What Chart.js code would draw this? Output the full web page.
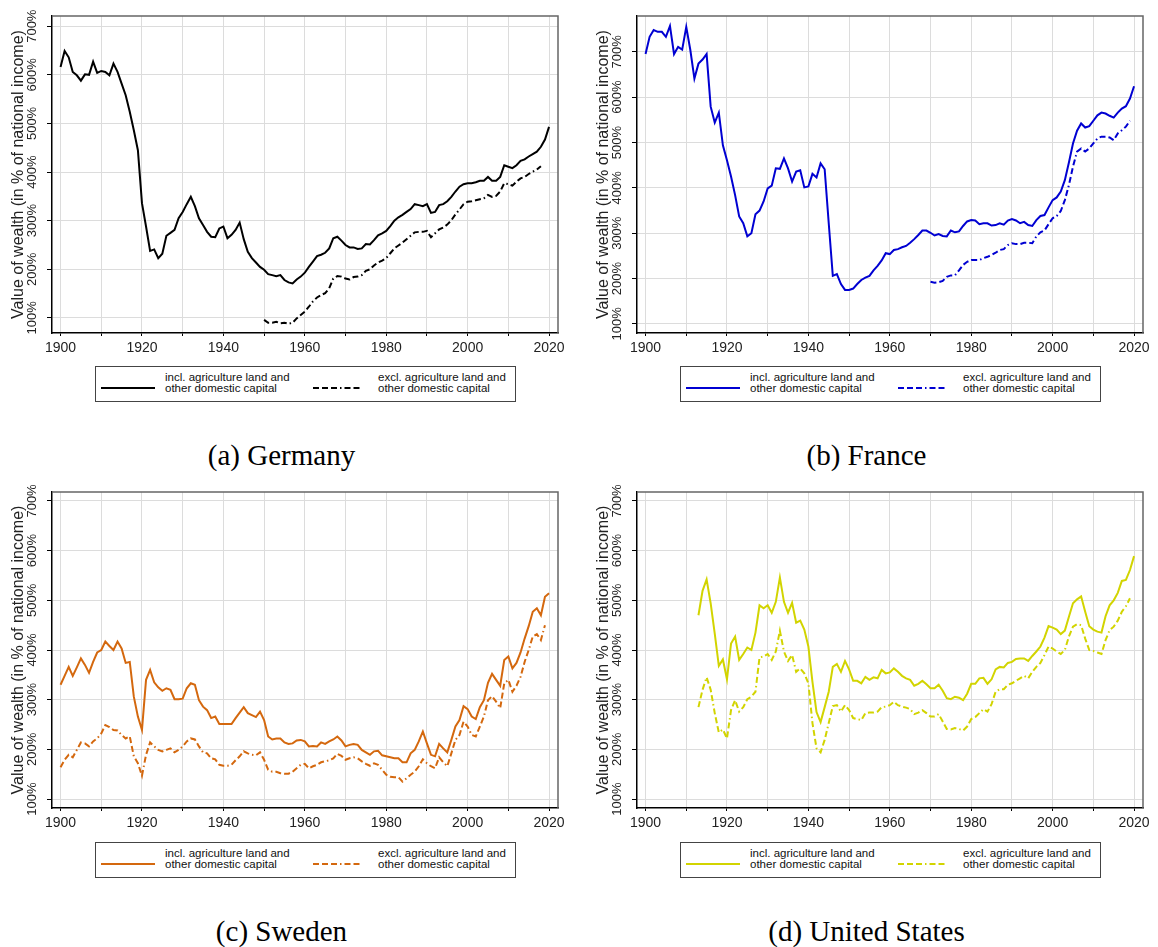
<!DOCTYPE html>
<html>
<head>
<meta charset="utf-8">
<script src="https://cdn.jsdelivr.net/npm/chart.js@4.4.1/dist/chart.umd.min.js"></script>
<style>
  body { margin: 0; background: #fff; }
  #page { position: relative; width: 1158px; height: 947px; overflow: hidden; background: #fff; }
  canvas.panel { position: absolute; }
  .legend {
    position: absolute; width: 419px; height: 34px; border: 1px solid #444;
    font-family: "Liberation Sans", Arial, sans-serif; font-size: 11.5px; line-height: 11px; color: #111;
  }
  .legend .sample { position: absolute; top: 14px; }
  .legend .txt { position: absolute; top: 5px; white-space: nowrap; }
  .caption {
    position: absolute; width: 563px; text-align: center;
    font-family: "Liberation Serif", "Times New Roman", serif; font-size: 29px; line-height: 34px; color: #000;
  }
</style>
</head>
<body>
<div id="page">
  <canvas id="cDE" class="panel" width="575" height="362" style="left:0;top:0"></canvas>
  <canvas id="cFR" class="panel" width="575" height="362" style="left:585px;top:0"></canvas>
  <canvas id="cSE" class="panel" width="575" height="362" style="left:0;top:476px"></canvas>
  <canvas id="cUS" class="panel" width="575" height="362" style="left:585px;top:476px"></canvas>
  <div id="lDE" class="legend" style="left:95px;top:366px"></div>
  <div id="lFR" class="legend" style="left:680px;top:366px"></div>
  <div id="lSE" class="legend" style="left:95px;top:842px"></div>
  <div id="lUS" class="legend" style="left:680px;top:842px"></div>
  <div class="caption" style="left:0;top:438px">(a) Germany</div>
  <div class="caption" style="left:585px;top:438px">(b) France</div>
  <div class="caption" style="left:0;top:914px">(c) Sweden</div>
  <div class="caption" style="left:585px;top:914px">(d) United States</div>
</div>

<script>
// axis ticks and labels
const xTicks = [1900, 1910, 1920, 1930, 1940, 1950, 1960, 1970, 1980, 1990, 2000, 2010, 2020];
const yTicks = [100, 200, 300, 400, 500, 600, 700];
const yTitle = "Value of wealth (in % of national income)";
const legendInclLines = ["incl. agriculture land and", "other domestic capital"];
const legendExclLines = ["excl. agriculture land and", "other domestic capital"];

// Germany, value of wealth in % of national income
const deInclStart = 1900;
const deIncl = [
  616, 649, 636, 606, 599, 588, 601, 600, 627, 604,
  608, 606, 599, 623, 606, 582, 558, 524, 486, 445,
  336, 288, 238, 241, 223, 232, 269, 275, 281, 305,
  318, 334, 349, 330, 305, 291, 277, 267, 266, 284,
  288, 264, 271, 281, 296, 262, 236, 223, 214, 205,
  199, 190, 188, 186, 188, 178, 173, 171, 179, 185,
  193, 205, 216, 227, 230, 234, 243, 264, 267, 259,
  250, 245, 245, 242, 243, 252, 251, 260, 270, 274,
  279, 289, 300, 307, 312, 318, 324, 334, 332, 330,
  334, 316, 318, 332, 334, 340, 349, 360, 370, 375,
  377, 377, 379, 382, 382, 390, 382, 382, 390, 414,
  411, 408, 414, 423, 426, 432, 437, 442, 452, 467,
  493
];
const deExclStart = 1950;
const deExcl = [
  96, 90, 90, 92, 89, 90, 88, 90, 99, 106,
  113, 123, 134, 142, 147, 151, 161, 181, 186, 185,
  181, 179, 184, 185, 188, 197, 200, 208, 214, 218,
  223, 233, 243, 249, 255, 262, 269, 276, 277, 277,
  279, 266, 274, 282, 286, 292, 301, 313, 323, 334,
  339, 340, 342, 344, 346, 353, 349, 351, 360, 377,
  375, 372, 380, 387, 390, 396, 401, 405, 412
];

// France
const frInclStart = 1900;
const frIncl = [
  695, 733, 748, 744, 744, 733, 757, 695, 711, 705,
  755, 704, 641, 674, 683, 695, 579, 544, 566, 494,
  461, 425, 384, 337, 322, 293, 300, 342, 350, 370,
  399, 405, 443, 442, 465, 443, 414, 436, 439, 401,
  403, 431, 423, 454, 441, 322, 206, 210, 188, 175,
  175, 178, 188, 197, 202, 206, 218, 228, 240, 256,
  254, 263, 265, 269, 272, 279, 287, 296, 306, 306,
  301, 295, 298, 294, 293, 306, 302, 304, 316, 326,
  329, 328, 320, 322, 322, 317, 318, 322, 319, 328,
  331, 328, 322, 325, 318, 316, 329, 338, 340, 357,
  373, 379, 392, 417, 456, 498, 526, 542, 533, 536,
  548, 560, 566, 564, 559, 555, 566, 575, 580, 597,
  624
];
const frExclStart = 1970;
const frExcl = [
  193, 191, 192, 195, 204, 207, 207, 218, 230, 237,
  241, 241, 241, 245, 248, 252, 257, 263, 265, 274,
  278, 276, 276, 279, 279, 278, 293, 302, 306, 320,
  333, 338, 349, 373, 406, 447, 480, 487, 480, 487,
  498, 509, 513, 513, 511, 505, 520, 527, 535, 548
];

// Sweden
const seInclStart = 1900;
const seIncl = [
  330, 348, 366, 348, 365, 383, 370, 354, 376, 395,
  400, 417, 408, 400, 417, 403, 374, 376, 306, 266,
  239, 340, 360, 335, 325, 318, 323, 320, 301, 301,
  302, 323, 333, 330, 299, 286, 279, 263, 266, 251,
  251, 251, 251, 263, 274, 285, 273, 269, 265, 276,
  259, 226, 220, 222, 222, 214, 211, 212, 218, 219,
  216, 206, 207, 206, 214, 211, 216, 220, 226, 218,
  206, 209, 211, 209, 199, 194, 189, 196, 197, 188,
  186, 184, 182, 182, 174, 174, 192, 199, 216, 236,
  212, 189, 186, 211, 202, 194, 219, 246, 259, 287,
  281, 266, 261, 285, 299, 334, 352, 340, 328, 380,
  387, 363, 374, 395, 423, 448, 477, 484, 470, 507,
  514
];
const seExclStart = 1900;
const seExcl = [
  164, 179, 189, 184, 199, 214, 212, 206, 216, 222,
  232, 249, 245, 239, 238, 229, 222, 226, 186, 172,
  147, 189, 214, 206, 199, 196, 199, 202, 194, 199,
  206, 216, 222, 220, 206, 194, 192, 182, 180, 169,
  167, 167, 169, 178, 186, 196, 192, 189, 188, 194,
  179, 159, 155, 155, 152, 151, 151, 155, 162, 169,
  171, 162, 166, 169, 174, 176, 178, 182, 191, 187,
  179, 182, 184, 182, 176, 171, 167, 172, 169, 159,
  149, 145, 144, 144, 135, 142, 149, 155, 166, 180,
  172, 166, 162, 184, 174, 166, 192, 219, 229, 256,
  246, 229, 226, 246, 266, 299, 307, 296, 283, 333,
  340, 316, 328, 346, 376, 400, 427, 432, 420, 450
];

// United States
const usInclStart = 1913;
const usIncl = [
  470, 519, 542, 494, 433, 368, 381,
  341, 413, 427, 380, 392, 405, 400, 435, 490, 484,
  490, 475, 497, 546, 497, 475, 495, 455, 459, 441,
  407, 336, 275, 255, 285, 316, 366, 372, 356, 378,
  361, 338, 338, 333, 346, 340, 345, 343, 360, 353,
  355, 363, 356, 348, 343, 340, 328, 332, 338, 331,
  323, 323, 330, 318, 303, 301, 306, 304, 299, 312,
  332, 332, 343, 344, 332, 341, 361, 366, 365, 374,
  376, 382, 383, 383, 378, 388, 397, 407, 425, 448,
  445, 441, 432, 439, 467, 494, 502, 508, 477, 448,
  441, 437, 435, 468, 490, 500, 515, 539, 541, 561,
  589
];
const usExclStart = 1913;
const usExcl = [
  285, 320, 345, 320, 273, 234, 240,
  222, 279, 299, 276, 285, 301, 306, 316, 385, 387,
  392, 380, 397, 439, 397, 378, 390, 356, 363, 353,
  333, 253, 202, 194, 219, 253, 287, 289, 276, 289,
  279, 263, 261, 259, 273, 274, 274, 276, 285, 286,
  289, 296, 289, 286, 284, 281, 271, 274, 279, 273,
  266, 266, 271, 256, 241, 240, 243, 241, 238, 246,
  261, 265, 273, 281, 276, 291, 316, 321, 321, 330,
  333, 338, 343, 348, 343, 356, 366, 374, 390, 407,
  403, 397, 392, 400, 427, 447, 452, 450, 423, 400,
  398, 395, 392, 420, 440, 447, 459, 477, 488, 504
];

const dashPattern = [6, 3, 6, 3, 6, 3, 1.5, 3];

Chart.defaults.font.family = "'Liberation Sans', Arial, sans-serif";
Chart.defaults.color = "#222";

function toPoints(start, values) {
  return values.map((v, i) => ({ x: start + i, y: v }));
}

// grey frame on the top and right side of the plot
const framePlugin = {
  id: "frame",
  afterDraw(chart) {
    const { ctx, chartArea: a } = chart;
    ctx.save();
    ctx.strokeStyle = "#666";
    ctx.lineWidth = 1.5;
    ctx.beginPath();
    ctx.moveTo(a.left, a.top);
    ctx.lineTo(a.right, a.top);
    ctx.lineTo(a.right, a.bottom);
    ctx.stroke();
    ctx.restore();
  }
};

function makePanel(p) {
  const ctx = document.getElementById(p.canvas).getContext("2d");
  new Chart(ctx, {
    type: "line",
    data: {
      datasets: [
        {
          data: toPoints(p.inclStart, p.incl),
          borderColor: p.color,
          borderWidth: 2,
          pointRadius: 0,
          tension: 0
        },
        {
          data: toPoints(p.exclStart, p.excl),
          borderColor: p.color,
          borderWidth: 2,
          borderDash: dashPattern,
          pointRadius: 0,
          tension: 0
        }
      ]
    },
    options: {
      responsive: false,
      animation: false,
      devicePixelRatio: 1,
      layout: { padding: { top: 16, right: 17, left: 0, bottom: 0 } },
      plugins: { legend: { display: false }, tooltip: { enabled: false } },
      scales: {
        x: {
          type: "linear",
          min: 1897.9,
          max: 2022.2,
          afterBuildTicks: (s) => { s.ticks = xTicks.map((v) => ({ value: v })); },
          afterFit: (s) => { s.height = p.axisH; },
          ticks: {
            autoSkip: false,
            maxRotation: 0,
            padding: 4,
            font: { size: 14 },
            color: "#222",
            callback: (v) => (v % 20 === 0 ? String(v) : "")
          },
          grid: { color: "#dcdcdc", lineWidth: 1, tickLength: 3, tickColor: "#000", tickWidth: 1 },
          border: { color: "#000", width: 1.5 }
        },
        y: {
          min: p.yMin,
          max: p.yMax,
          afterBuildTicks: (s) => { s.ticks = yTicks.map((v) => ({ value: v })); },
          afterFit: (s) => { s.width = 52; },
          ticks: {
            minRotation: 90,
            maxRotation: 90,
            crossAlign: "center",
            padding: -2,
            font: { size: 13 },
            color: "#222",
            callback: (v) => v + "%"
          },
          grid: { color: "#dcdcdc", lineWidth: 1, tickLength: 5, tickColor: "#000", tickWidth: 1 },
          border: { color: "#000", width: 1.5 },
          title: {
            display: true,
            text: yTitle,
            font: { size: 16 },
            color: "#222",
            padding: { top: 9, bottom: 0 }
          }
        }
      }
    },
    plugins: [framePlugin]
  });
}

function sampleSvg(color, width, dashed) {
  const dash = dashed ? ' stroke-dasharray="' + dashPattern.join(",") + '"' : "";
  return '<svg width="' + width + '" height="4"><line x1="0" y1="2" x2="' + width +
    '" y2="2" stroke="' + color + '" stroke-width="2"' + dash + "/></svg>";
}

function makeLegend(id, color) {
  const el = document.getElementById(id);
  el.innerHTML =
    '<div class="sample" style="left:5px">' + sampleSvg(color, 54, false) + "</div>" +
    '<div class="txt" style="left:69px">' + legendInclLines.join("<br>") + "</div>" +
    '<div class="sample" style="left:217px">' + sampleSvg(color, 47, true) + "</div>" +
    '<div class="txt" style="left:282px">' + legendExclLines.join("<br>") + "</div>";
}

const panels = [
  { canvas: "cDE", legend: "lDE", color: "#000000", incl: deIncl, inclStart: deInclStart, excl: deExcl, exclStart: deExclStart, yMin: 69, yMax: 721, axisH: 29 },
  { canvas: "cFR", legend: "lFR", color: "#0000d2", incl: frIncl, inclStart: frInclStart, excl: frExcl, exclStart: frExclStart, yMin: 80, yMax: 779, axisH: 29 },
  { canvas: "cSE", legend: "lSE", color: "#d4680e", incl: seIncl, inclStart: seInclStart, excl: seExcl, exclStart: seExclStart, yMin: 82, yMax: 718, axisH: 30 },
  { canvas: "cUS", legend: "lUS", color: "#d2d400", incl: usIncl, inclStart: usInclStart, excl: usExcl, exclStart: usExclStart, yMin: 82, yMax: 718, axisH: 30 }
];

panels.forEach((p) => {
  makePanel(p);
  makeLegend(p.legend, p.color);
});
</script>
</body>
</html>
